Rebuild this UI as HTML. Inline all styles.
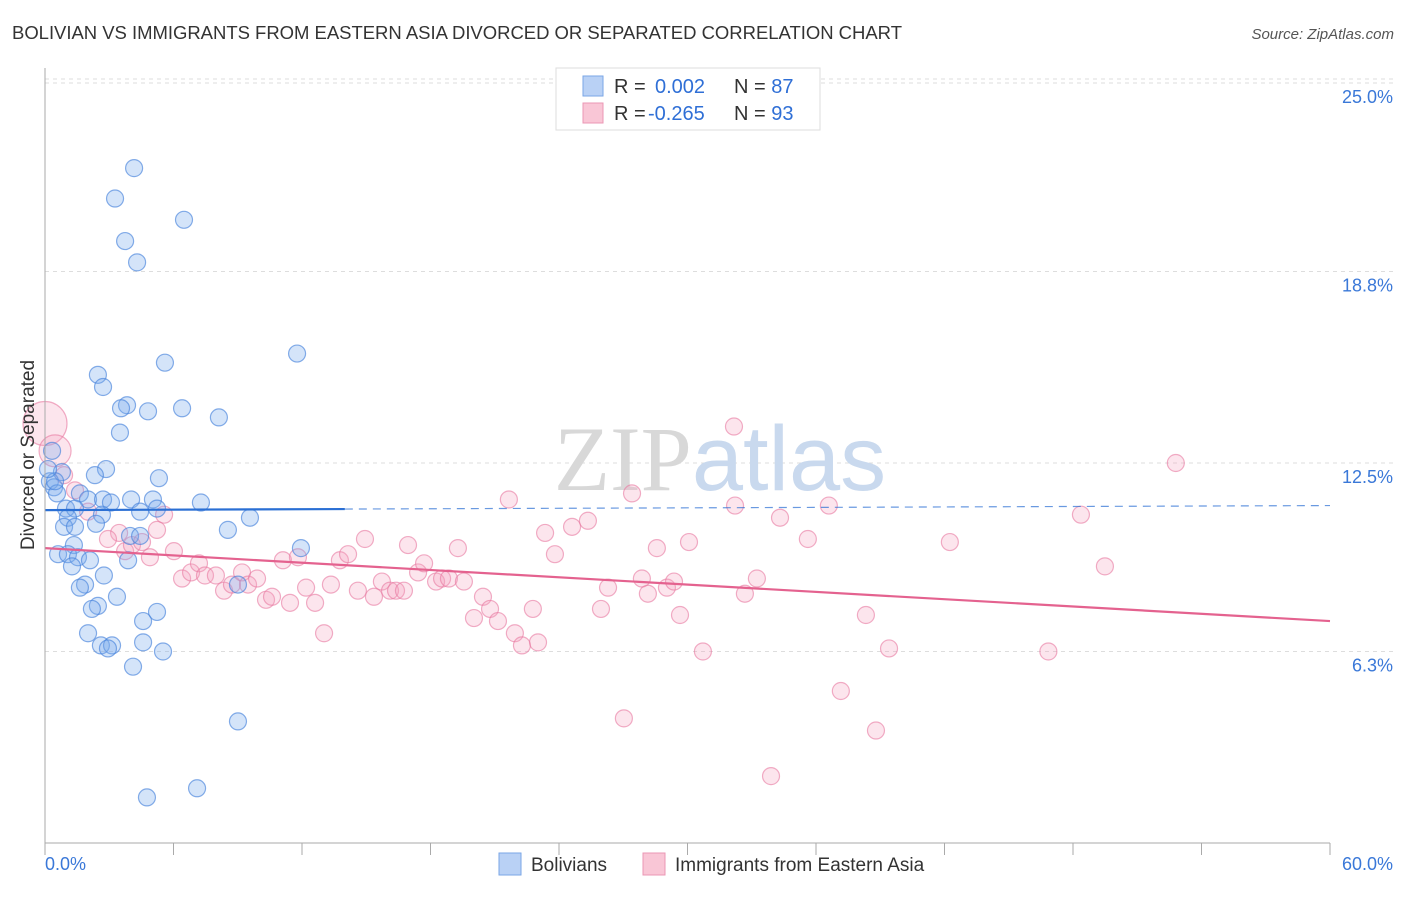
<!DOCTYPE html>
<html><head><meta charset="utf-8"><style>
body{margin:0;background:#fff;font-family:"Liberation Sans",sans-serif;}
svg text{font-family:"Liberation Sans",sans-serif;}
</style></head><body>
<svg id="chart" width="1406" height="892" xmlns="http://www.w3.org/2000/svg">
<text x="12" y="39" font-size="18.5" fill="#333" textLength="890">BOLIVIAN VS IMMIGRANTS FROM EASTERN ASIA DIVORCED OR SEPARATED CORRELATION CHART</text>
<text x="1394" y="39" font-size="15" fill="#555" font-style="italic" text-anchor="end">Source: ZipAtlas.com</text>
<g id="grid"></g>
<text x="720" y="490" font-size="92" fill="#ddd" text-anchor="middle" font-family="Liberation Serif"><tspan fill="#d8d8d8" font-family="Liberation Serif">ZIP</tspan><tspan fill="#c9d9ee" font-family="Liberation Sans">atlas</tspan></text>
<g id="pts"></g>
<g id="trends"></g>
<g id="axes"></g>
<text x="34" y="455" font-size="19" fill="#333" text-anchor="middle" transform="rotate(-90 34 455)">Divorced or Separated</text>
<g>
<rect x="556" y="68" width="264" height="62" fill="#fff" stroke="#ddd"/>
<rect x="583" y="76" width="20" height="20" fill="#b9d1f5" stroke="#7aa6e6"/>
<rect x="583" y="103" width="20" height="20" fill="#f9c6d6" stroke="#eb97b4"/>
<text x="614" y="93" font-size="20" fill="#333">R = <tspan x="655" fill="#2f6fd6">0.002</tspan><tspan x="734">N = </tspan><tspan fill="#2f6fd6">87</tspan></text>
<text x="614" y="120" font-size="20" fill="#333">R = <tspan x="648" fill="#2f6fd6">-0.265</tspan><tspan x="734">N = </tspan><tspan fill="#2f6fd6">93</tspan></text>
</g>
<g>
<rect x="499" y="853" width="22" height="22" fill="#b9d1f5" stroke="#7aa6e6"/>
<text x="531" y="871" font-size="19" fill="#333">Bolivians</text>
<rect x="643" y="853" width="22" height="22" fill="#f9c6d6" stroke="#eb97b4"/>
<text x="675" y="871" font-size="19" fill="#333">Immigrants from Eastern Asia</text>
</g>
</svg>
<script>
const blueX=[4.16,3.27,6.49,3.74,4.30,11.77,5.60,2.47,2.71,3.83,3.55,4.81,6.40,8.12,3.50,0.33,0.79,2.85,5.32,2.33,0.23,0.42,1.63,0.56,2.01,2.71,4.02,3.08,5.04,7.28,0.98,1.40,5.23,2.66,4.44,9.57,1.07,2.38,0.89,1.40,8.54,3.97,4.44,1.35,11.95,0.61,1.07,1.54,2.10,3.88,1.26,2.75,1.87,1.63,3.36,2.47,2.19,5.23,4.58,2.01,2.61,3.13,2.94,4.58,5.51,4.11,9.01,9.01,7.10,4.76,0.47,0.14];
const blueY=[22.2,21.2,20.5,19.8,19.1,16.1,15.8,15.4,15.0,14.4,14.3,14.2,14.3,14.0,13.5,12.9,12.2,12.3,12.0,12.1,11.9,11.7,11.5,11.5,11.3,11.3,11.3,11.2,11.3,11.2,11.0,11.0,11.0,10.8,10.9,10.7,10.7,10.5,10.4,10.4,10.3,10.1,10.1,9.8,9.7,9.5,9.5,9.4,9.3,9.3,9.1,8.8,8.5,8.4,8.1,7.8,7.7,7.6,7.3,6.9,6.5,6.5,6.4,6.6,6.3,5.8,4.0,8.5,1.8,1.5,11.9,12.3];
const pinkX=[0,0.47,0.89,1.40,2.01,3.46,2.94,3.74,4.06,4.53,4.90,5.23,5.56,6.02,6.40,6.82,7.19,7.47,7.98,8.36,8.73,9.20,9.48,9.90,10.32,10.60,11.11,11.44,11.81,12.19,12.61,13.03,13.35,13.77,14.15,14.61,14.94,15.36,15.73,16.11,16.39,16.76,16.95,17.42,17.70,18.26,18.54,18.86,19.28,19.56,20.03,20.45,20.78,21.15,21.66,21.94,22.27,22.78,23.02,23.35,23.81,24.61,25.35,25.96,26.29,27.03,27.41,27.87,28.15,28.57,29.04,29.37,29.65,30.07,30.72,32.17,32.22,32.68,33.24,33.90,34.32,35.62,36.60,37.16,38.33,38.80,39.41,42.25,46.85,48.37,49.49,52.80];
const pinkY=[13.8,12.9,12.1,11.6,10.9,10.2,10.0,9.6,9.8,9.9,9.4,10.3,10.8,9.6,8.7,8.9,9.2,8.8,8.8,8.3,8.5,8.9,8.5,8.7,8.0,8.1,9.3,7.9,9.4,8.4,7.9,6.9,8.5,9.3,9.5,8.3,10.0,8.1,8.6,8.3,8.3,8.3,9.8,8.9,9.2,8.6,8.7,8.7,9.7,8.6,7.4,8.1,7.7,7.3,11.3,6.9,6.5,7.7,6.6,10.2,9.5,10.4,10.6,7.7,8.4,4.1,11.5,8.7,8.2,9.7,8.4,8.6,7.5,9.9,6.3,13.7,11.1,8.2,8.7,2.2,10.7,10.0,11.1,5.0,7.5,3.7,6.4,9.9,6.3,10.8,9.1,12.5];
const pinkR=[22,16];
const yTicks=[6.3,12.5,18.8,25.0];
const xTickVals=[0,6,12,18,24,30,36,42,48,54,60];
const blueTrend=[10.95,11.1];
const pinkTrend=[9.7,7.3];
const X0=45,X1=1330,Y0=843,PPU=30.4;
const sx=v=>X0+(v/60)*(X1-X0), sy=v=>Y0-v*PPU;
const NS="http://www.w3.org/2000/svg";
function mk(tag,attrs,parent){const e=document.createElementNS(NS,tag);for(const k in attrs)e.setAttribute(k,attrs[k]);parent.appendChild(e);return e;}
const grid=document.getElementById('grid'),axes=document.getElementById('axes'),pts=document.getElementById('pts'),tr=document.getElementById('trends');
yTicks.forEach(t=>{const l=mk('line',{x1:X0,x2:1395,y1:sy(t),y2:sy(t),stroke:'#ddd','stroke-dasharray':'4,4'},grid);


const tx=mk('text',{x:1393,y:sy(t)+20,'font-size':18,fill:'#3a78d8','text-anchor':'end'},axes);tx.textContent=t.toFixed(1)+'%';

});
const topLine=mk('line',{x1:X0,x2:1395,y1:sy(25)-4,y2:sy(25)-4,stroke:'#ddd','stroke-dasharray':'4,4'},grid);


const ya=mk('line',{x1:X0,x2:X0,y1:68,y2:Y0,stroke:'#aaa'},axes);


const xa=mk('line',{x1:X0,x2:X1,y1:Y0,y2:Y0,stroke:'#aaa'},axes);


xTickVals.forEach(v=>{const t=mk('line',{x1:sx(v),x2:sx(v),y1:Y0,y2:Y0+12,stroke:'#aaa'},axes);

});
const xl0=mk('text',{x:45,y:870,'font-size':18,fill:'#3a78d8'},axes);xl0.textContent='0.0%';


const xl1=mk('text',{x:1393,y:870,'font-size':18,fill:'#3a78d8','text-anchor':'end'},axes);xl1.textContent='60.0%';


pinkX.forEach((x,i)=>{const c=mk('circle',{cx:sx(x),cy:sy(pinkY[i]),r:pinkR[i]||8.5,fill:'rgba(244,160,190,0.28)',stroke:'rgba(232,120,160,0.6)','stroke-width':1.2},pts);

});
blueX.forEach((x,i)=>{const c=mk('circle',{cx:sx(x),cy:sy(blueY[i]),r:8.5,fill:'rgba(120,170,235,0.32)',stroke:'rgba(70,130,220,0.65)','stroke-width':1.2},pts);

});
const bsplit=14;
const bMid=blueTrend[0]+(blueTrend[1]-blueTrend[0])*bsplit/60;
const b1=mk('line',{x1:sx(0),y1:sy(blueTrend[0]),x2:sx(bsplit),y2:sy(bMid),stroke:'#2a6fd4','stroke-width':2.2},tr);


const b2=mk('line',{x1:sx(bsplit),y1:sy(bMid),x2:sx(60),y2:sy(blueTrend[1]),stroke:'#2a6fd4','stroke-width':1.2,'stroke-dasharray':'8,6','opacity':0.7},tr);


const p1=mk('line',{x1:sx(0),y1:sy(pinkTrend[0]),x2:sx(60),y2:sy(pinkTrend[1]),stroke:'#e4628f','stroke-width':2.2},tr);


</script>
</body></html>
